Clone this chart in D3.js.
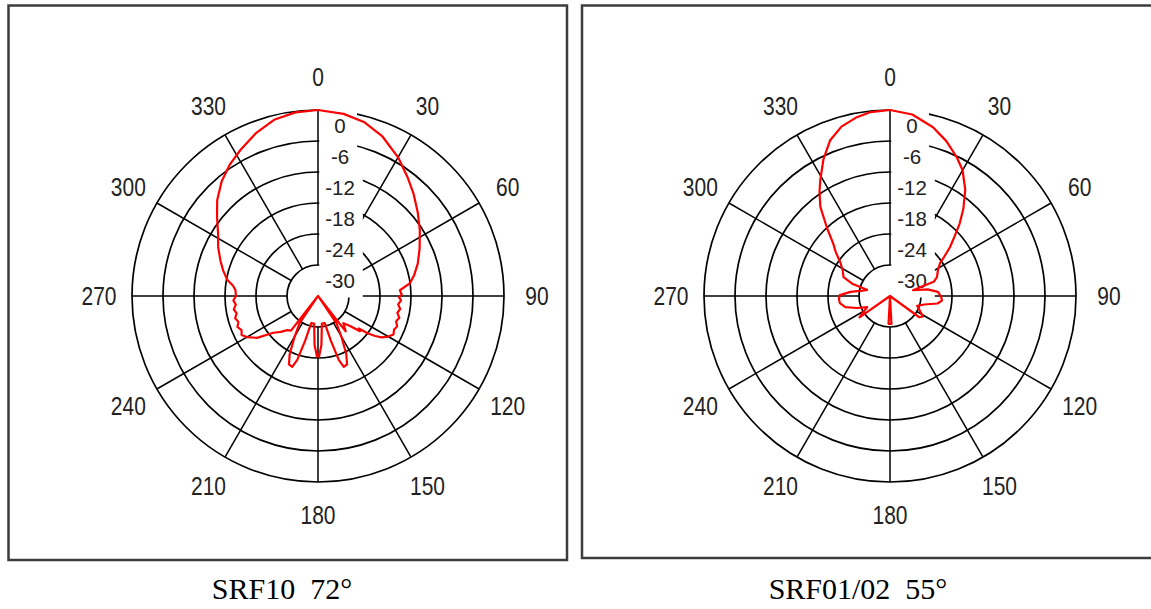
<!DOCTYPE html>
<html>
<head>
<meta charset="utf-8">
<script src="https://cdn.jsdelivr.net/npm/d3@7"></script>
<style>
  body { margin: 0; background: #fff; }
  svg { display: block; }
</style>
</head>
<body>
<div id="chart"></div>
<script>
/** Page size. */
const WIDTH = 1151;
const HEIGHT = 609;

/** Polar grid: angle ticks (deg) and dB rings. */
const angleTicks = [0, 30, 60, 90, 120, 150, 180, 210, 240, 270, 300, 330];
const dbTicks = [0, -6, -12, -18, -24, -30];
const DB_MIN = -36;

/** SRF10 72 deg pattern: angle (deg) and relative gain (dB). */
const srf10Angle = [0, 8, 15, 22, 30, 37, 43, 50, 57, 65, 72, 78, 82, 86, 89, 91, 93, 96, 99, 102,
  105, 108, 111, 114, 117, 120, 123, 125, 127, 128.5, 130, 133, 137, 142, 144, 146, 150, 154, 157,
  160, 162, 164, 166, 172, 176, 179, 181, 184, 188, 194, 196, 198, 200, 203, 206, 210, 214, 216,
  218, 222, 226, 230.6, 235.5, 240, 243, 246, 249, 252, 255, 258, 261, 264, 267, 270, 274, 277,
  280, 285, 290, 296, 302, 308, 313.5, 320, 326, 332, 339, 346, 353, 360];
const srf10Gain = [0, -0.4, -1.2, -2.7, -5.0, -7.2, -8.9, -10.8, -12.5, -14.3, -15.7, -17.0, -18.0,
  -20.1, -19.8, -20.3, -19.9, -20.4, -19.9, -20.3, -19.7, -20.1, -19.6, -19.9, -19.6, -20.3, -21.3,
  -22.5, -24.0, -25.9, -25.4, -27.5, -28.8, -27.3, -40, -29.6, -27.0, -23.5, -21.6, -21.4, -23.0,
  -27.0, -30.6, -30.6, -26.5, -24.3, -24.3, -26.5, -30.6, -30.6, -27.0, -23.0, -21.4, -21.6, -23.5,
  -27.0, -29.6, -40, -27.5, -27.1, -26.0, -24.8, -21.7, -20.1, -19.4, -19.8, -19.3, -19.8, -19.4,
  -19.9, -19.5, -20.0, -19.6, -20.1, -20.0, -19.4, -18.2, -17.0, -15.9, -14.5, -13.2, -11.2, -9.1,
  -7.0, -5.4, -4.0, -2.3, -0.85, -0.2, 0];

/** SRF01/02 55 deg pattern. */
const srf01Angle = [0, 7, 14.3, 20, 25.7, 30, 35.3, 40, 43.8, 47, 50.8, 54, 56.6, 62, 68, 72, 74, 76,
  80, 85, 91, 95, 99, 104, 110, 116, 122, 126, 128, 175, 177, 183, 185, 232, 235, 240, 244, 250,
  256, 262, 267, 271, 276, 281, 285, 288, 292, 299, 304, 309, 313, 317, 322, 326, 329, 334, 339,
  344, 349.5, 354, 360];
const srf01Gain = [0, -0.6, -2.3, -4.1, -6.2, -7.9, -10.8, -13.9, -16.5, -18.8, -21.0, -23.0, -24.4,
  -25.5, -26.2, -27.1, -30.2, -31.4, -28.6, -26.7, -26.1, -25.9, -26.7, -29.2, -30.4, -29.6, -28.5,
  -29.0, -40, -40, -30.6, -30.6, -40, -40, -28.8, -30.2, -31.1, -29.2, -27.1, -26.2, -26.1, -26.3,
  -28.3, -30.6, -31.4, -28.3, -26.3, -25.5, -24.4, -22.5, -20.9, -18.2, -14.1, -11.6, -9.8, -6.6,
  -3.7, -1.9, -0.8, -0.2, 0];

const captions = ["SRF10  72\u00B0", "SRF01/02  55\u00B0"];

/** Layout. */
const RADIUS = 186;
const panels = [
  { cx: 318, cy: 296, frame: [8.5, 5.5, 558.5, 554.5], capX: 282 },
  { cx: 890, cy: 296, frame: [582, 5.5, 600, 552.5], capX: 858 }
];
const CAPTION_Y = 599;
const LABEL_R = 219;
const GRID_WIDTH = 1.7;

const svg = d3.select("#chart").append("svg")
  .attr("width", WIDTH)
  .attr("height", HEIGHT);

svg.append("rect")
  .attr("width", WIDTH).attr("height", HEIGHT).attr("fill", "#fff");

const r = d3.scaleLinear().domain([DB_MIN, 0]).range([0, RADIUS]).clamp(true);
const rad = (deg) => deg * Math.PI / 180;

function drawPolar(p, angles, gains, caption) {
  // Frame
  svg.append("rect")
    .attr("x", p.frame[0]).attr("y", p.frame[1])
    .attr("width", p.frame[2]).attr("height", p.frame[3])
    .attr("fill", "none")
    .attr("stroke", "#3c3c3c")
    .attr("stroke-width", 2.5);

  const g = svg.append("g").attr("transform", `translate(${p.cx},${p.cy})`);
  const inner = r(dbTicks[dbTicks.length - 1]);

  // Rings
  g.selectAll(".ring")
    .data(dbTicks)
    .enter()
    .append("circle")
    .attr("r", d => r(d))
    .attr("fill", "none")
    .attr("stroke", "#000")
    .attr("stroke-width", GRID_WIDTH);

  // Spokes
  g.selectAll(".spoke")
    .data(angleTicks)
    .enter()
    .append("line")
    .attr("x1", d => inner * Math.sin(rad(d)))
    .attr("y1", d => -inner * Math.cos(rad(d)))
    .attr("x2", d => RADIUS * Math.sin(rad(d)))
    .attr("y2", d => -RADIUS * Math.cos(rad(d)))
    .attr("stroke", "#000")
    .attr("stroke-width", GRID_WIDTH - 0.2);

  // Angle labels
  g.selectAll(".alabel")
    .data(angleTicks)
    .enter()
    .append("text")
    .attr("transform", d => `translate(${LABEL_R * Math.sin(rad(d))},${-LABEL_R * Math.cos(rad(d))}) scale(0.84,1)`)
    .attr("text-anchor", "middle")
    .attr("dy", "0.36em")
    .attr("font-family", "Liberation Sans, Arial, sans-serif")
    .attr("font-size", 25)
    .attr("fill", "#222")
    .text(d => d);

  // dB labels with white boxes
  const step = r(0) - r(-6);
  const lab = g.selectAll(".rlabel")
    .data(dbTicks)
    .enter()
    .append("g");
  lab.append("rect")
    .attr("fill", "#fff");
  const texts = lab.append("text")
    .attr("x", 22)
    .attr("y", d => -r(d) + step / 2)
    .attr("dy", "0.36em")
    .attr("text-anchor", "middle")
    .attr("font-family", "Liberation Sans, Arial, sans-serif")
    .attr("font-size", 20.5)
    .attr("fill", "#222")
    .text(d => d);
  texts.each(function (d) {
    const bb = this.getBBox();
    d3.select(this.parentNode).select("rect")
      .attr("x", 1.5)
      .attr("y", -r(d) - 2)
      .attr("width", Math.max(bb.x + bb.width + 8, 39) - 1.5)
      .attr("height", step + 3.5);
  });

  // Pattern
  const pts = angles.map((a, i) => [rad(a), r(gains[i])]);
  g.append("path")
    .datum(pts)
    .attr("d", d3.lineRadial().angle(d => d[0]).radius(d => d[1]))
    .attr("fill", "none")
    .attr("stroke", "#ff0000")
    .attr("stroke-width", 2.2)
    .attr("stroke-linejoin", "round");

  // Caption
  svg.append("text")
    .attr("x", p.capX)
    .attr("y", CAPTION_Y)
    .attr("text-anchor", "middle")
    .attr("font-family", "Liberation Serif, Times New Roman, serif")
    .attr("font-size", 30)
    .attr("fill", "#000")
    .style("white-space", "pre")
    .text(caption);
}

drawPolar(panels[0], srf10Angle, srf10Gain, captions[0]);
drawPolar(panels[1], srf01Angle, srf01Gain, captions[1]);
</script>
</body>
</html>
